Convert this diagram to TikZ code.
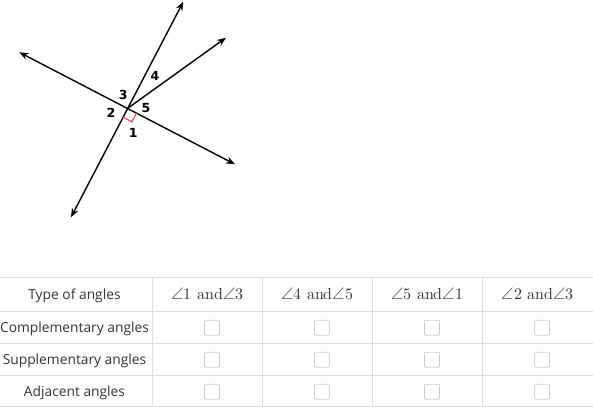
\documentclass[tikz,border=0pt]{standalone}
\usepackage{fontspec}
\newfontfamily\tablefont{Open Sans}
\newfontfamily\digitfont{DejaVu Sans}
\newfontfamily\anglefont{Latin Modern Math}
\usetikzlibrary{arrows.meta,calc}
\definecolor{gridgray}{HTML}{DDDDDD}
\definecolor{boxgray}{HTML}{CCCCCC}
\definecolor{textgray}{HTML}{333333}
\definecolor{markred}{HTML}{E8505B}

\begin{document}
\begin{tikzpicture}[x=1pt,y=-1pt]
\tikzstyle{ray}=[line width=1.4pt,-{Stealth[length=9pt,width=7pt]}]
\tikzstyle{anglabel}=[font=\digitfont\bfseries\fontsize{12.5}{13}\selectfont,inner sep=0pt]
\tikzstyle{rowlabel}=[font=\tablefont\fontsize{13.8}{14}\selectfont,text=textgray,anchor=base,inner sep=0pt]
\tikzstyle{colhead}=[font=\anglefont\fontsize{16}{16}\selectfont,text=textgray,anchor=base,inner sep=0pt]
\tikzstyle{checkbox}=[draw=boxgray,line width=0.8pt,minimum size=15pt,inner sep=0pt,rounded corners=1pt]
\tikzstyle{gridline}=[draw=gridgray,line width=0.9pt]
\useasboundingbox (0,0) rectangle (593,415);

% the lines through O
\coordinate (O) at (127.7,108.3);
\coordinate (top) at (183.3,1.7);
\coordinate (bottom) at (71,217.3);
\coordinate (left) at (19.3,52.3);
\coordinate (right) at (235,164.3);
\coordinate (tip) at (226,37.7);
\draw[ray,{Stealth[length=9pt,width=7pt]}-{Stealth[length=9pt,width=7pt]}] (bottom) -- (top);
\draw[ray,{Stealth[length=9pt,width=7pt]}-{Stealth[length=9pt,width=7pt]}] (left) -- (right);
\draw[ray] (O) -- (tip);

% right angle at 1
\coordinate (m1) at ($(O)!10pt!(bottom)$);
\coordinate (m2) at ($(O)!10pt!(right)$);
\draw[markred,line width=1.2pt] (m1) -- ($(m1)+(m2)-(O)$) -- (m2);

\node[anglabel] (a1) at (133.3,133.3) {1};
\node[anglabel] (a2) at (111,113) {2};
\node[anglabel] (a3) at (123.3,95) {3};
\node[anglabel] (a4) at (155,76) {4};
\node[anglabel] (a5) at (146,107.7) {5};

% table
\foreach \y in {277.3,311.7,343.3,375.3,406.7}
  \draw[gridline] (0,\y) -- (593,\y);
\foreach \x in {152.7,262.3,372.3,482.3}
  \draw[gridline] (\x,277.3) -- (\x,406.7);

\node[rowlabel] (type) at (74.5,299.3) {Type of angles};
\node[rowlabel] (comp) at (74.5,332.8) {Complementary angles};
\node[rowlabel] (supp) at (74.5,364.5) {Supplementary angles};
\node[rowlabel] (adj) at (74.5,396.3) {Adjacent angles};

\node[colhead] (p13) at (207.5,299.3) {∠1 and∠3};
\node[colhead] (p45) at (317.3,299.3) {∠4 and∠5};
\node[colhead] (p51) at (427.3,299.3) {∠5 and∠1};
\node[colhead] (p23) at (537.6,299.3) {∠2 and∠3};

\foreach \x/\c in {212/a,322/b,432/c,542/d}
  \foreach \y/\r in {327.8/comp,359.7/supp,391.8/adj}
    \node[checkbox] (box-\r-\c) at (\x,\y) {};
\end{tikzpicture}
\end{document}
